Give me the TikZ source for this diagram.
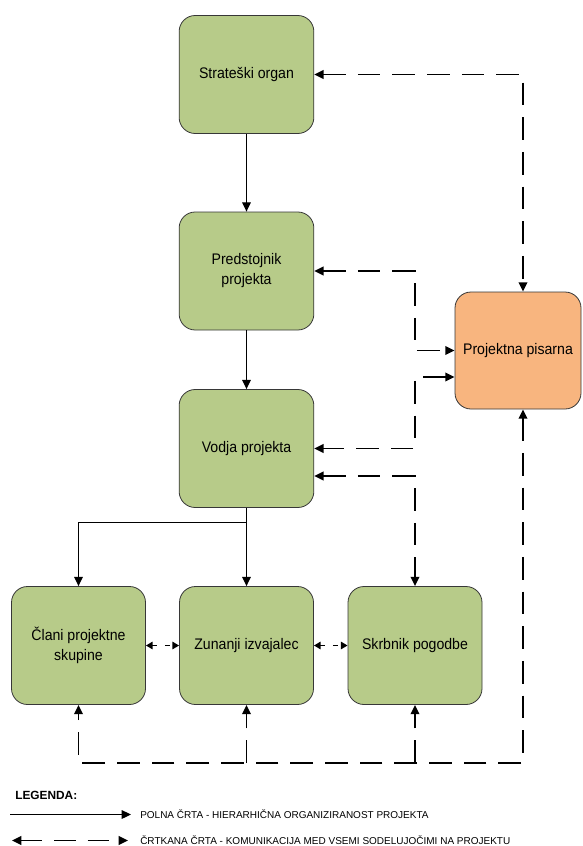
\documentclass[tikz,border=0pt]{standalone}
\usepackage{fontspec}
\setmainfont{Liberation Sans}
\newfontfamily\boxfont{Liberation Sans}[FakeStretch=0.92]
\usetikzlibrary{arrows.meta,calc}
\definecolor{boxgreen}{RGB}{183,203,137}
\definecolor{boxorange}{RGB}{248,181,127}
\definecolor{boxedge}{RGB}{55,55,55}

\begin{document}
\begin{tikzpicture}[x=0.75pt,y=-0.75pt,
  box/.style={draw=boxedge, line width=0.6pt, rounded corners=12pt, fill=boxgreen,
    minimum width=101pt, minimum height=88.5pt, align=center, inner sep=2pt,
    font=\boxfont\fontsize{11.5}{15}\selectfont},
  office/.style={box, fill=boxorange, minimum width=94.5pt, minimum height=87.75pt},
  tip/.tip={Triangle[length=7pt,width=6.5pt]},
  smalltip/.tip={Triangle[length=5pt,width=5.5pt]},
  hier/.style={line width=0.85pt, -tip},
  comm/.style={line width=1.3pt, dash pattern=on 17pt off 9pt},
  nearcomm/.style={line width=1.3pt, dash pattern=on 4pt off 5.5pt, smalltip-smalltip},
  legtext/.style={anchor=west, inner sep=0pt, font=\fontsize{7.5}{9}\selectfont}
]
\useasboundingbox (0,0) rectangle (582,846);

% organisational units
\node[box] (strat) at (246.5,74.5) {Strateški organ};
\node[box] (pred)  at (246.5,271)  {Predstojnik\\projekta};
\node[box] (vodja) at (246.5,448.5) {Vodja projekta};
\node[office] (pis) at (518,350.5) {Projektna pisarna};
\node[box, minimum width=100.5pt] (clani) at (78.5,645.5)  {Člani projektne\\skupine};
\node[box, minimum width=100.5pt] (zun)   at (246.5,645.5) {Zunanji izvajalec};
\node[box, minimum width=100.5pt] (skr)   at (415,645.5) {Skrbnik pogodbe};

% hierarchy (solid)
\draw[hier] (strat) -- (pred);
\draw[hier] (pred) -- (vodja);
\draw[hier] (vodja.south) -- (zun.north);
\coordinate (split) at (246.5,522.5);
\draw[hier] (split) -| (clani.north);

% communication (dashed)
\coordinate (kS) at (523,74.5);
\draw[comm, tip-tip] (strat.east) -- (kS) -- (kS |- pis.north);

\coordinate (kP) at (415,271);
\draw[comm, tip-tip] (pred.east) -- (kP) -- (kP |- pis.west) -- (pis.west);

\coordinate (pv) at ($(pis.west)+(0,26.5)$);
\draw[comm, tip-tip] (pv) -- (kP |- pv) -- (kP |- vodja.east) -- (vodja.east);

\coordinate (vs) at ($(vodja.east)+(0,27.5)$);
\draw[comm, tip-tip] (vs) -- (vs -| skr.north) -- (skr.north);

\coordinate (kB) at (523,763);
\draw[comm, tip-tip] (kS |- pis.south) -- (kB) -- (kB -| clani.south) -- (clani.south);
\draw[comm, -tip] (zun.south |- kB) -- (zun.south);
\draw[comm, -tip] (skr.south |- kB) -- (skr.south);

\draw[nearcomm] (clani.east) -- (zun.west);
\draw[nearcomm] (zun.east) -- (skr.west);

% legend
\node[anchor=west, inner sep=0pt, font=\bfseries\fontsize{8.9}{10}\selectfont] (leg) at (15,795) {LEGENDA:};
\coordinate (l1a) at (10,814.5);
\coordinate (l1b) at (131,814.5);
\draw[hier] (l1a) -- (l1b);
\node[legtext] (t1) at (140,814) {POLNA ČRTA - HIERARHIČNA ORGANIZIRANOST PROJEKTA};
\coordinate (l2a) at (12,840.5);
\coordinate (l2b) at (128,840.5);
\draw[line width=1.3pt, dash pattern=on 16pt off 9pt, tip-tip] (l2a) -- (l2b);
\node[legtext] (t2) at (140,840.5) {ČRTKANA ČRTA - KOMUNIKACIJA MED VSEMI SODELUJOČIMI NA PROJEKTU};
\end{tikzpicture}
\end{document}
